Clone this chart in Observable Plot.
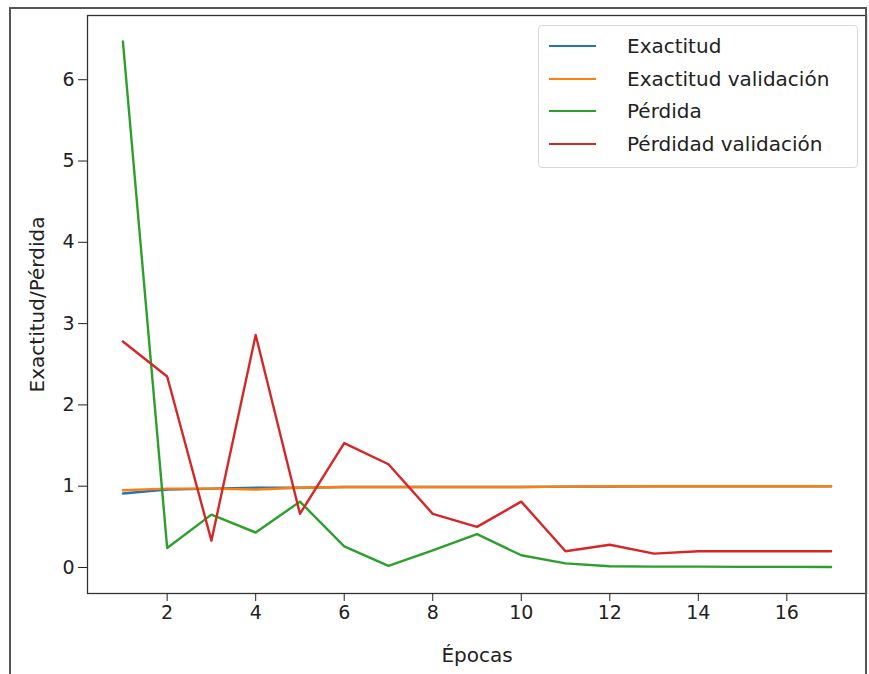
<!DOCTYPE html>
<html>
<head>
<meta charset="utf-8">
<script src="https://cdn.jsdelivr.net/npm/d3@7"></script>
<script src="https://cdn.jsdelivr.net/npm/@observablehq/plot@0.6"></script>
<style>
  html, body { margin: 0; padding: 0; background: #fff; }
  #wrap { position: relative; width: 869px; height: 674px; font-family: "DejaVu Sans", sans-serif; overflow: hidden; }
  #outer { position: absolute; left: 9px; top: 7px; width: 858px; height: 700px; border: 2px solid #555; box-sizing: border-box; pointer-events: none; }
  #legend { position: absolute; left: 538px; top: 25px; width: 320px; height: 143px; box-sizing: border-box;
            border: 1px solid #d8d8d8; border-radius: 4px; background: rgba(255,255,255,0.85); padding: 4px 0 0 10px; }
  .item { display: flex; align-items: center; height: 32.5px; font-size: 20px; color: #222; }
  .sw { width: 47px; height: 0; border-top: 2.5px solid; margin-right: 31px; }
</style>
</head>
<body>
<div id="wrap">
  <div id="chart"></div>
  <div id="legend"></div>
  <div id="outer"></div>
</div>
<script>
const epochs = [1,2,3,4,5,6,7,8,9,10,11,12,13,14,15,16,17];
const exactitud = [0.91,0.96,0.97,0.98,0.98,0.99,0.99,0.99,0.99,0.99,0.995,0.997,0.998,0.998,0.999,0.999,0.999];
const exactitudVal = [0.95,0.97,0.97,0.96,0.98,0.99,0.99,0.99,0.99,0.99,0.995,1.0,1.0,1.0,1.0,1.0,1.0];
const perdida = [6.47,0.24,0.65,0.43,0.81,0.26,0.02,0.21,0.41,0.15,0.05,0.015,0.01,0.01,0.008,0.007,0.006];
const perdidaVal = [2.78,2.35,0.33,2.86,0.66,1.53,1.27,0.66,0.50,0.81,0.20,0.28,0.17,0.20,0.20,0.20,0.20];
const seriesNames = ["Exactitud","Exactitud validación","Pérdida","Pérdidad validación"];
const seriesColors = ["#1f77b4","#ff7f0e","#2ca02c","#d62728"];
const xTicks = [2,4,6,8,10,12,14,16];
const yTicks = [0,1,2,3,4,5,6];

const allSeries = [exactitud, exactitudVal, perdida, perdidaVal];
const rows = [];
allSeries.forEach((vals, i) => vals.forEach((v, j) => rows.push({epoch: epochs[j], value: v, series: seriesNames[i]})));

const chart = Plot.plot({
  width: 869,
  height: 674,
  marginLeft: 87,
  marginRight: 3,
  marginTop: 15,
  marginBottom: 81,
  style: {fontFamily: "DejaVu Sans, sans-serif", fontSize: "19px", color: "#222", background: "transparent"},
  x: {domain: [0.2, 17.8]},
  y: {domain: [-0.32, 6.79]},
  color: {domain: seriesNames, range: seriesColors},
  marks: [
    Plot.line(rows, {x: "epoch", y: "value", z: "series", stroke: "series", strokeWidth: 2.4}),
    Plot.frame({stroke: "#333", strokeWidth: 1.3}),
    Plot.axisX({ticks: xTicks, tickSize: 8, tickPadding: 4, fontSize: 19, label: null}),
    Plot.axisX({ticks: [], tickSize: 0, label: "Épocas", labelAnchor: "center", labelArrow: "none", labelOffset: 68, fontSize: 20}),
    Plot.axisY({ticks: yTicks, tickSize: 9, tickPadding: 4, fontSize: 19, label: null}),
    Plot.axisY({ticks: [], tickSize: 0, label: "Exactitud/Pérdida", labelAnchor: "center", labelArrow: "none", labelOffset: 58, fontSize: 20})
  ]
});
document.getElementById("chart").appendChild(chart);

const legend = document.getElementById("legend");
seriesNames.forEach((n, i) => {
  const it = document.createElement("div");
  it.className = "item";
  const sw = document.createElement("span");
  sw.className = "sw";
  sw.style.borderTopColor = seriesColors[i];
  const t = document.createElement("span");
  t.textContent = n;
  it.appendChild(sw); it.appendChild(t);
  legend.appendChild(it);
});
</script>
</body>
</html>
